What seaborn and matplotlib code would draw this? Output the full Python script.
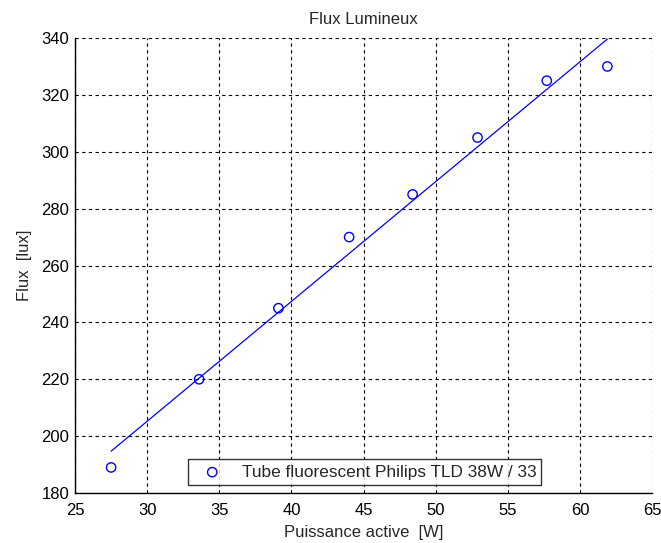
import numpy as np
import pandas as pd
import matplotlib
matplotlib.use('Agg')
import matplotlib.pyplot as plt
import seaborn as sns

# Data
puissance = [27.5, 33.6, 39.1, 44.0, 48.4, 52.9, 57.7, 61.9]
flux = [189, 220, 245, 270, 285, 305, 325, 330]
x_ticks = [25, 30, 35, 40, 45, 50, 55, 60, 65]
y_ticks = [180, 200, 220, 240, 260, 280, 300, 320, 340]
legend_label = 'Tube fluorescent Philips TLD 38W / 33'

data = pd.DataFrame({'Puissance': puissance, 'Flux': flux})

sns.set_style('white')
plt.rcParams['font.family'] = ['Liberation Sans', 'DejaVu Sans']
plt.rcParams['font.size'] = 12

fig = plt.figure(figsize=(6.61, 5.43), dpi=100)
ax = fig.add_axes([0.1135, 0.092, 0.873, 0.838])

#Points and least squares line
sns.scatterplot(data=data, x='Puissance', y='Flux', ax=ax, marker='o', s=45,
                facecolors='none', edgecolor='#0000ff', linewidth=1, label=legend_label)
sns.regplot(data=data, x='Puissance', y='Flux', ax=ax, scatter=False, ci=None,
            color='#0000ff', line_kws={'linewidth': 0.9})

ax.set_xlim(25, 65)
ax.set_ylim(180, 340)
ax.set_xticks(x_ticks)
ax.set_yticks(y_ticks)
ax.grid(True, color='black', linestyle=(0, (3, 3)), linewidth=0.8)
ax.tick_params(direction='in', length=4, labelsize=12, colors='black')
ax.tick_params(axis='x', pad=7)
ax.tick_params(axis='y', pad=4)
for side in ['top', 'right']:
    ax.spines[side].set_visible(False)
for side in ['left', 'bottom']:
    ax.spines[side].set_color('black')
    ax.spines[side].set_linewidth(1)

ax.set_title('Flux Lumineux', fontsize=12, pad=10)
ax.set_xlabel('Puissance active  [W]', fontsize=12, labelpad=5)
ax.set_ylabel('Flux  [lux]', fontsize=12, labelpad=7)

leg = ax.legend(loc='lower center', bbox_to_anchor=(0.502, 0.018), fancybox=False,
                frameon=True, edgecolor='black', fontsize=12.4, borderpad=0.3,
                handlelength=2.2, handletextpad=0.6, borderaxespad=0)
leg.get_frame().set_linewidth(1)

fig.savefig('out.png', dpi=100)
